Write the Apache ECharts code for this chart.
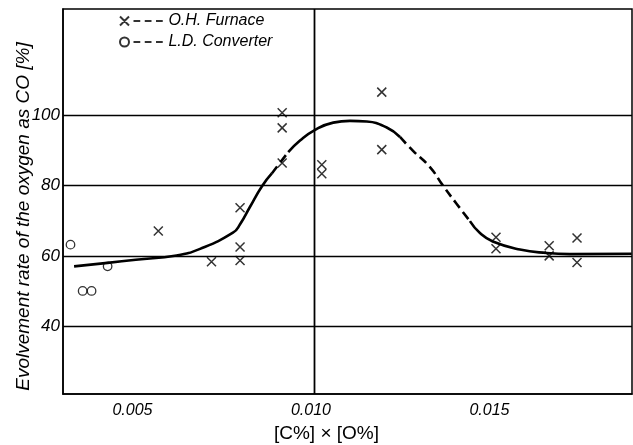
<!DOCTYPE html>
<html>
<head>
<meta charset="utf-8">
<script src="https://cdn.jsdelivr.net/npm/echarts@6/dist/echarts.min.js"></script>
<style>html,body{margin:0;padding:0;background:#fff}#c{width:633px;height:445px}</style>
</head>
<body>
<div id="c"></div>
<script>
// ---- data ----
const xTicks = [0.005, 0.010, 0.015];
const yTicks = [40, 60, 80, 100];

const ohX = [0.00564, 0.00713, 0.00793, 0.00793, 0.00793, 0.00911, 0.00911, 0.00911, 0.01022, 0.01022, 0.0119, 0.0119, 0.0151, 0.0151, 0.01659, 0.01659, 0.01737, 0.01737];
const ohY = [67.1, 58.3, 73.7, 62.5, 58.7, 100.8, 96.5, 86.5, 86.0, 83.4, 106.7, 90.3, 65.3, 62.0, 62.9, 60.0, 65.1, 58.1];

const ldX = [0.00318, 0.00352, 0.00377, 0.00422];
const ldY = [63.2, 50.0, 50.0, 57.0];

const curveX = [0.00328, 0.00422, 0.00501, 0.00615, 0.00681, 0.00773, 0.00793, 0.00821, 0.00854, 0.00882, 0.00928, 0.00961, 0.01001, 0.01054, 0.01101, 0.01148, 0.01204, 0.01241, 0.01277, 0.01325, 0.01361, 0.01400, 0.01437, 0.01465, 0.01501, 0.01577, 0.01652, 0.01717, 0.0189];
const curveY = [57.0, 58.0, 58.9, 60.1, 62.0, 66.6, 69.0, 74.0, 79.8, 83.5, 89.6, 92.9, 95.8, 98.0, 98.5, 98.3, 96.6, 93.9, 90.0, 85.3, 80.1, 74.8, 69.9, 66.5, 64.1, 61.8, 60.8, 60.5, 60.6];
// index ranges of the curve: solid / dashed pieces
const curveSolid = [[0, 9], [10, 17], [22, 28]];
const curveDashed = [[9, 10], [17, 22]];

const seriesNames = ['O.H. Furnace', 'L.D. Converter'];
const yName = 'Evolvement rate of the oxygen as CO [%]';
const xName = '[C%] × [O%]';

// ---- chart ----
const FONT = "'Liberation Sans', Arial, sans-serif";
const zip = (xs, ys) => xs.map((x, i) => [x, ys[i]]);
const part = ([a, b]) => zip(curveX.slice(a, b + 1), curveY.slice(a, b + 1));

const series = [];
series.push({
  name: seriesNames[0], type: 'scatter', data: zip(ohX, ohY),
  symbol: 'path://M0,0L10,10M10,0L0,10', symbolSize: 9,
  itemStyle: { color: 'transparent', borderColor: '#000', borderWidth: 1.5 },
  z: 5,
  markLine: {
    silent: true, symbol: 'none', animation: false,
    label: { show: false },
    lineStyle: { color: '#000', width: 1.3, type: 'solid' },
    data: xTicks.map(v => ({ xAxis: v })).concat(yTicks.map(v => ({ yAxis: v })))
  }
});
series.push({
  name: seriesNames[1], type: 'scatter', data: zip(ldX, ldY),
  symbol: 'circle', symbolSize: 8.5,
  itemStyle: { color: 'transparent', borderColor: '#000', borderWidth: 1.3 },
  z: 5
});
curveSolid.forEach(r => series.push({
  type: 'line', data: part(r), smooth: 0.5, symbol: 'none',
  lineStyle: { color: '#000', width: 2.6, type: 'solid' }, z: 4
}));
curveDashed.forEach(r => series.push({
  type: 'line', data: part(r), smooth: 0.5, symbol: 'none',
  lineStyle: { color: '#000', width: 2.6, type: [9, 5] }, z: 4
}));

const chart = echarts.init(document.getElementById('c'), null, { renderer: 'canvas' });
chart.setOption({
  animation: false,
  backgroundColor: '#fff',
  grid: { left: 63, right: 1, top: 9, bottom: 51, outerBoundsMode: 'none', containLabel: false,
          show: true, borderColor: '#000', borderWidth: 1.5, backgroundColor: 'transparent' },
  legend: {
    orient: 'vertical', left: 114, top: 8, itemGap: 5,
    itemWidth: 44, itemHeight: 9,
    textStyle: { fontFamily: FONT, fontStyle: 'italic', fontSize: 16, color: '#000' },
    data: [
      { name: seriesNames[0], icon: 'path://M0,0L8,8M8,0L0,8M12,4L18,4M22,4L28,4M32,4L38,4' },
      { name: seriesNames[1], icon: 'path://M0,4A4,4,0,1,1,8,4A4,4,0,1,1,0,4ZM12,4L18,4M22,4L28,4M32,4L38,4' }
    ]
  },
  xAxis: {
    type: 'value', min: 0.00297, max: 0.01891,
    name: xName, nameLocation: 'middle', nameGap: 30,
    nameTextStyle: { fontFamily: FONT, fontSize: 19, color: '#000', padding: [0, 42, 0, 0] },
    axisLine: { show: true, lineStyle: { color: '#000', width: 1.5 } },
    axisTick: { show: false },
    splitLine: { show: false },
    axisLabel: {
      customValues: xTicks, margin: 9, color: '#000',
      fontFamily: FONT, fontStyle: 'italic', fontSize: 16,
      padding: [0, 6, 0, 0],
      formatter: v => v.toFixed(3)
    }
  },
  yAxis: {
    type: 'value', min: 20.6, max: 130.4,
    name: yName, nameLocation: 'middle', nameGap: 30, nameRotate: 90, nameMoveOverlap: false,
    nameTextStyle: { fontFamily: FONT, fontStyle: 'italic', fontSize: 19, color: '#000', padding: [0, 30, 0, 0] },
    axisLine: { show: true, lineStyle: { color: '#000', width: 1.5 } },
    axisTick: { show: false },
    splitLine: { show: false },
    axisLabel: {
      customValues: yTicks, margin: 3, color: '#000',
      fontFamily: FONT, fontStyle: 'italic', fontSize: 17
    }
  },
  series: series
});
</script>
</body>
</html>
